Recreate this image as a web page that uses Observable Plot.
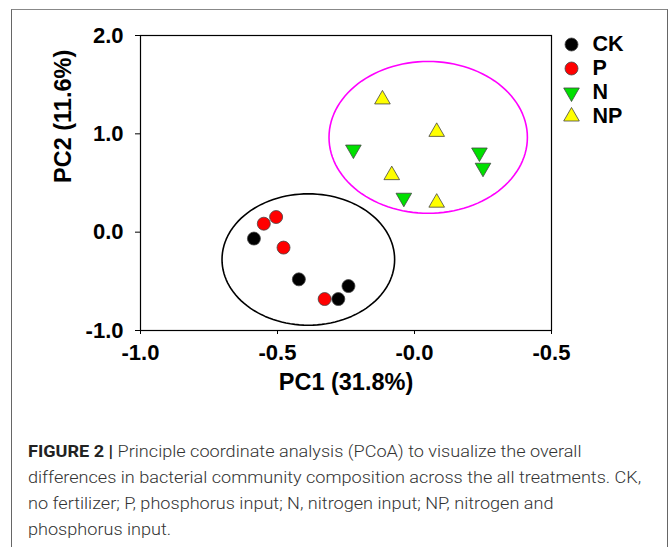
<!DOCTYPE html>
<html>
<head>
<meta charset="utf-8">
<script src="https://cdn.jsdelivr.net/npm/d3@7"></script>
<script src="https://cdn.jsdelivr.net/npm/@observablehq/plot@0.6"></script>
<style>
  html, body { margin: 0; padding: 0; background: #fff; }
  #page { position: relative; width: 670px; height: 547px; overflow: hidden; }
  #border { position: absolute; left: 11px; top: 9px; width: 655px; height: 600px; border: 1px solid #666; border-top-color: #888; }
  #chart { position: absolute; left: 0; top: 0; }
  #legend { position: absolute; left: 553px; top: 0; }
  #caption { position: absolute; left: 28px; top: 439px; font-family: Roboto, "Liberation Sans", sans-serif; font-weight: 300; font-size: 15.6px; line-height: 26px; color: #333; white-space: nowrap; transform: scaleX(1.16); transform-origin: 0 0; }
  #caption b { font-weight: 700; color: #222; }
</style>
</head>
<body>
<div id="page">
  <div id="border"></div>
  <div id="chart"></div>
  <div id="legend"></div>
  <div id="caption"></div>
</div>
<script>
// ---- data ----
const groups = ["CK", "P", "N", "NP"];
const groupColors = ["#000000", "#ff0000", "#00e000", "#ffff00"];

const ckX = [-0.586, -0.422, -0.241, -0.278];
const ckY = [-0.065, -0.480, -0.548, -0.680];
const pX = [-0.550, -0.505, -0.478, -0.328];
const pY = [0.086, 0.154, -0.157, -0.680];
const nX = [-0.223, -0.039, 0.237, 0.250];
const nY = [0.84, 0.35, 0.81, 0.655];
const npX = [-0.117, 0.081, -0.083, 0.081];
const npY = [1.35, 1.02, 0.58, 0.30];

// cluster ellipses: center (x, y) and radii (rx, ry) in data units
const ellipseNames = ["CK+P", "N+NP"];
const ellipseCx = [-0.3875, 0.05];
const ellipseCy = [-0.278, 0.964];
const ellipseRx = [0.315, 0.362];
const ellipseRy = [0.668, 0.772];
const ellipseColors = ["#000000", "#ff00ff"];

const xTicks = [-1.0, -0.5, 0.0, 0.5];
const xTickLabels = ["-1.0", "-0.5", "-0.0", "-0.5"];
const yTicks = [-1.0, 0.0, 1.0, 2.0];
const yTickLabels = ["-1.0", "0.0", "1.0", "2.0"];

const xTitle = "PC1 (31.8%)";
const yTitle = "PC2 (11.6%)";
const captionBold = "FIGURE 2 |";
const captionLines = [
  " Principle coordinate analysis (PCoA) to visualize the overall",
  "differences in bacterial community composition across the all treatments. CK,",
  "no fertilizer; P, phosphorus input; N, nitrogen input; NP, nitrogen and",
  "phosphorus input."
];

// ---- helpers ----
const zip = (xs, ys) => xs.map((x, i) => ({x, y: ys[i]}));
const triangleDown = {
  draw(context, size) {
    const y = -Math.sqrt(size / (Math.sqrt(3) * 3));
    context.moveTo(0, -2 * y);
    context.lineTo(-Math.sqrt(3) * y, y);
    context.lineTo(Math.sqrt(3) * y, y);
    context.closePath();
  }
};
const groupSymbols = ["circle", "circle", triangleDown, "triangle"];
const groupR = [6.5, 6.5, 5.8, 5.8];

function ellipsePoints(i) {
  const pts = [];
  const n = 120;
  for (let k = 0; k <= n; k++) {
    const t = (k / n) * 2 * Math.PI;
    pts.push({x: ellipseCx[i] + ellipseRx[i] * Math.cos(t), y: ellipseCy[i] + ellipseRy[i] * Math.sin(t), e: ellipseNames[i]});
  }
  return pts;
}

const series = [zip(ckX, ckY), zip(pX, pY), zip(nX, nY), zip(npX, npY)];
const xFmt = new Map(xTicks.map((t, i) => [t, xTickLabels[i]]));
const yFmt = new Map(yTicks.map((t, i) => [t, yTickLabels[i]]));
const font = "'Liberation Sans', Arial, sans-serif";

const chart = Plot.plot({
  width: 670,
  height: 400,
  marginLeft: 140,
  marginRight: 119,
  marginTop: 35,
  marginBottom: 70,
  style: {fontFamily: font, color: "#000", background: "transparent"},
  x: {domain: [-1, 0.5], label: null},
  y: {domain: [-1, 2], label: null},
  marks: [
    ...ellipseNames.map((_, i) => Plot.line(ellipsePoints(i), {x: "x", y: "y", stroke: ellipseColors[i], strokeWidth: 1.6, curve: "linear"})),
    ...series.map((data, i) => Plot.dot(data, {x: "x", y: "y", symbol: groupSymbols[i], r: groupR[i], fill: groupColors[i], stroke: "#444", strokeWidth: 0.8})),
    Plot.frame({stroke: "#000", strokeWidth: 1.2}),
    Plot.axisX({ticks: xTicks, tickFormat: d => xFmt.get(d), tickSize: 4, tickPadding: 10, fontSize: 22, fontWeight: "bold", label: null}),
    Plot.axisY({ticks: yTicks, tickFormat: d => yFmt.get(d), tickSize: 5, tickPadding: 12, fontSize: 22, fontWeight: "bold", label: null}),
    Plot.text([xTitle], {text: d => d, frameAnchor: "bottom", dy: 59, fontSize: 23.5, fontWeight: "bold"}),
    Plot.text([yTitle], {text: d => d, frameAnchor: "left", dx: -77, rotate: -90, fontSize: 23.5, fontWeight: "bold"})
  ]
});
document.getElementById("chart").appendChild(chart);

const legendData = groups.map((g, i) => ({g, i}));
const legend = Plot.plot({
  width: 115,
  height: 130,
  margin: 0,
  style: {fontFamily: font, color: "#000", background: "transparent"},
  y: {type: "point", domain: groups, range: [43, 116], padding: 0, axis: null},
  marks: [
    ...legendData.map(d => Plot.dot([d], {y: "g", frameAnchor: "left", dx: 18, symbol: groupSymbols[d.i], r: groupR[d.i], fill: groupColors[d.i], stroke: "#444", strokeWidth: 0.8})),
    Plot.text(legendData, {y: "g", text: "g", frameAnchor: "left", dx: 39, textAnchor: "start", fontSize: 21.5, fontWeight: "bold"})
  ]
});
document.getElementById("legend").appendChild(legend);

const cap = document.getElementById("caption");
cap.innerHTML = "<b>" + captionBold + "</b>" + captionLines.join("<br>");
</script>
</body>
</html>
